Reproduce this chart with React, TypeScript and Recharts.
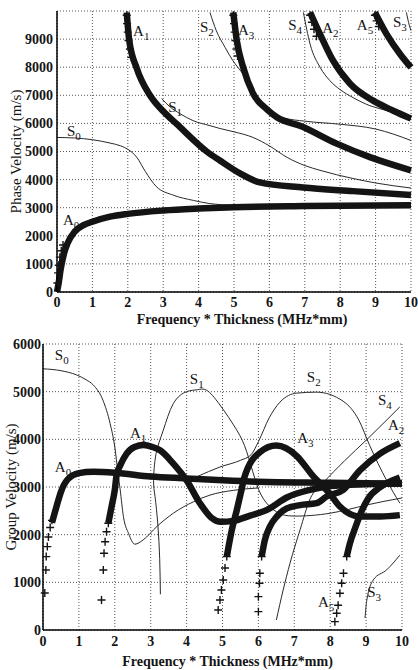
import React from 'react';
import {
  ComposedChart, Line, Scatter, XAxis, YAxis, CartesianGrid, ReferenceDot, Label,
} from 'recharts';

type Pt = [number, number];

// frequency*thickness (MHz*mm) vs velocity (m/s)

const xTicks = [0, 1, 2, 3, 4, 5, 6, 7, 8, 9, 10];
const phaseTicks = [0, 1000, 2000, 3000, 4000, 5000, 6000, 7000, 8000, 9000];
const groupTicks = [0, 1000, 2000, 3000, 4000, 5000, 6000];

// ---- phase velocity ----
const phaseA0: Pt[] = [[0, 0], [0.05, 350], [0.1, 780], [0.2, 1380], [0.3, 1740], [0.5, 2150], [0.75, 2380], [1, 2500], [1.5, 2680], [2, 2780], [3, 2900], [4, 2970], [5, 3020], [7, 3060], [10, 3085]];
const phaseA0Plus: Pt[] = [[0.01, 320], [0.03, 680], [0.05, 950], [0.08, 1240], [0.12, 1470], [0.17, 1670]];
const phaseS0: Pt[] = [[0, 5500], [0.5, 5480], [1, 5420], [1.5, 5300], [1.8, 5200], [2, 5080], [2.25, 4800], [2.5, 4280], [2.8, 3760], [3.3, 3440], [3.85, 3260], [4.3, 3150], [5, 3090], [6, 3075], [10, 3070]];
const phaseA1: Pt[] = [[1.97, 9950], [2.04, 8960], [2.25, 7970], [2.63, 6990], [3.0, 6430], [3.38, 5980], [4.23, 5000], [4.6, 4680], [5.17, 4220], [5.73, 3900], [6.95, 3720], [8.36, 3590], [10, 3450]];
const phaseA1Plus: Pt[] = [[1.97, 9850], [1.98, 9550], [2.0, 9250], [2.02, 8950], [2.06, 8650], [2.1, 8350]];
const phaseS1: Pt[] = [[2.96, 6880], [3.2, 6580], [3.47, 6350], [3.84, 6100], [4.32, 5920], [4.6, 5820], [5.0, 5700], [5.54, 5500], [6.0, 5200], [6.5, 4790], [7.0, 4500], [7.43, 4330], [8.36, 4040], [9, 3880], [10, 3700]];
const phaseS2: Pt[] = [[4.32, 9950], [4.5, 9300], [4.75, 8700], [4.97, 8230], [5.2, 7850], [5.4, 7500], [5.7, 6900], [6.0, 6450], [6.4, 6200], [7, 6080], [8, 5970], [9, 5800], [9.5, 5620], [10, 5390]];
const phaseA3: Pt[] = [[4.98, 9950], [5.08, 8940], [5.26, 7990], [5.54, 7060], [5.93, 6500], [6.21, 6220], [6.9, 5900], [7.9, 5280], [8.84, 4800], [10, 4330]];
const phaseA3Plus: Pt[] = [[4.98, 9850], [5.0, 9550], [5.02, 9250], [5.04, 8950], [5.07, 8650], [5.1, 8400]];
const phaseS4: Pt[] = [[6.96, 9950], [7.15, 8820], [7.43, 8000], [7.71, 7520], [8.0, 7200], [8.36, 6920], [8.84, 6630], [9.3, 6460], [10, 6130]];
const phaseA2: Pt[] = [[7.15, 9950], [7.43, 9180], [7.8, 8230], [8.28, 7410], [8.93, 6810], [9.5, 6450], [10, 6170]];
const phaseA2Plus: Pt[] = [[7.15, 9850], [7.2, 9600], [7.26, 9350], [7.33, 9100]];
const phaseA5: Pt[] = [[8.98, 9950], [9.31, 9180], [9.69, 8470], [10, 7990]];
const phaseA5Plus: Pt[] = [[8.98, 9850], [9.03, 9650], [9.09, 9450]];
const phaseS3: Pt[] = [[9.87, 9950], [9.95, 9500], [10, 9300]];

// ---- group velocity ----
const groupA0: Pt[] = [[0.25, 2250], [0.38, 2600], [0.5, 2900], [0.7, 3170], [1, 3290], [1.4, 3320], [2, 3300], [3, 3220], [4, 3180], [5, 3140], [6, 3110], [8, 3090], [10, 3070]];
const groupA0Plus: Pt[] = [[0.05, 775], [0.08, 1260], [0.09, 1540], [0.12, 1750], [0.15, 1950], [0.2, 2150], [0.25, 2300]];
const groupS0: Pt[] = [[0, 5480], [0.5, 5440], [0.94, 5350], [1.2, 5250], [1.4, 5140], [1.67, 4820], [1.87, 4330], [2.0, 3840], [2.09, 3290], [2.15, 2940], [2.24, 2380], [2.38, 2030], [2.56, 1800], [2.79, 1890], [3.17, 2170], [3.63, 2450], [4.19, 2690], [4.65, 2830], [5.3, 2930], [6, 2980]];
const groupA1: Pt[] = [[1.82, 2240], [1.91, 2590], [2.0, 2940], [2.05, 3250], [2.15, 3450], [2.33, 3700], [2.55, 3840], [2.8, 3880], [3.05, 3840], [3.26, 3770], [3.63, 3490], [4.0, 3140], [4.37, 2660], [4.7, 2350], [4.95, 2270], [5.3, 2290], [5.77, 2400], [6.24, 2520], [6.79, 2780], [7.44, 2940], [8, 3020], [9, 3060], [10, 3080]];
const groupA1Plus: Pt[] = [[1.63, 630], [1.68, 1260], [1.7, 1610], [1.73, 1850], [1.77, 2060], [1.82, 2240]];
const groupS1: Pt[] = [[3.27, 750], [3.25, 1500], [3.2, 2200], [3.12, 2800], [3.08, 3140], [3.15, 3700], [3.35, 4190], [3.63, 4750], [4.0, 5000], [4.3, 5040], [4.56, 5030], [4.93, 4720], [5.4, 4190], [5.67, 3750], [5.9, 3180], [6.14, 2750], [6.5, 2480], [7, 2390], [8, 2450], [9, 2620], [10, 2770]];
const groupS2: Pt[] = [[4.3, 3220], [4.93, 3420], [5.5, 3560], [5.8, 3680], [6.0, 3950], [6.3, 4450], [6.6, 4780], [7.07, 4970], [7.62, 4990], [8.36, 4800], [8.8, 4400], [9.1, 3870], [9.57, 3140], [9.94, 2660]];
const groupA3: Pt[] = [[5.12, 1540], [5.26, 2100], [5.4, 2520], [5.53, 2940], [5.6, 3180], [6.04, 3730], [6.5, 3870], [7.07, 3650], [7.5, 3250], [8.0, 2850], [8.27, 2590], [8.83, 2380], [9.4, 2380], [9.94, 2410]];
const groupA3Plus: Pt[] = [[4.88, 420], [4.93, 630], [4.97, 840], [5.02, 1050], [5.07, 1300], [5.12, 1540]];
const groupA2: Pt[] = [[6.09, 1540], [6.18, 1890], [6.32, 2170], [6.51, 2380], [6.79, 2550], [7.16, 2620], [7.62, 2660], [7.9, 2800], [8.36, 2940], [8.83, 3350], [9.39, 3700], [9.94, 3920]];
const groupA2Plus: Pt[] = [[6.0, 385], [6.0, 700], [6.03, 980], [6.04, 1190], [6.09, 1540]];
const groupS4: Pt[] = [[6.5, 210], [6.69, 840], [6.88, 1400], [7.16, 2100], [7.44, 2750], [7.8, 3080], [8.4, 3550], [9.0, 3980], [9.5, 4350], [9.94, 4680]];
const groupA5: Pt[] = [[8.46, 1540], [8.55, 1820], [8.7, 2150], [8.85, 2450], [9.05, 2750], [9.4, 3000], [9.94, 3200]];
const groupA5Plus: Pt[] = [[8.13, 175], [8.18, 350], [8.22, 520], [8.27, 770], [8.32, 980], [8.37, 1190], [8.46, 1540]];
const groupS3: Pt[] = [[8.97, 250], [9.02, 630], [9.2, 1050], [9.57, 1260], [9.94, 1570]];

// mode labels: [letter, subscript, f, v]
const phaseLabels: [string, string, number, number][] = [
  ['A', '1', 2.15, 9110], ['S', '2', 4.04, 9250], ['A', '3', 5.11, 9150], ['S', '4', 6.53, 9320],
  ['A', '2', 7.49, 9220], ['A', '5', 8.47, 9320], ['S', '3', 9.49, 9430], ['S', '1', 3.14, 6400],
  ['S', '0', 0.28, 5550], ['A', '0', 0.17, 2380],
];
const groupLabels: [string, string, number, number][] = [
  ['S', '0', 0.33, 5660], ['A', '0', 0.33, 3310], ['A', '1', 2.42, 4030], ['S', '1', 4.09, 5160],
  ['S', '2', 7.35, 5200], ['A', '3', 7.08, 3920], ['S', '4', 9.33, 4720], ['A', '2', 9.61, 4190],
  ['A', '5', 7.66, 480], ['S', '3', 9.03, 690],
];

const rows = (pts: Pt[]) => pts.map(([f, v]) => ({ f, v }));

const FONT = 'Liberation Serif';
const INK = '#141414';

const Plus = (props: any) => {
  const { cx, cy } = props;
  return <path d={`M${cx - 4},${cy}h8M${cx},${cy - 4}v8`} stroke={INK} strokeWidth={1.4} fill="none" />;
};

const ModeText = ({ cx, cy, name, sub }: any) => (
  <text x={cx} y={cy} fontFamily={FONT} fontSize={15} fill={INK}>
    {name}
    <tspan dy={4} fontSize={11}>{sub}</tspan>
  </text>
);

interface ChartProps {
  top: number;
  height: number;
  margin: { top: number; right: number; left: number; bottom: number };
  xHeight: number;
  yWidth: number;
  yMax: number;
  yTicks: number[];
  yTitle: string;
  yTitleOffset: number;
  tickMargin: number;
  xTitleOffset: number;
  xTitleDx: number;
  thick: Pt[][];
  thin: { pts: Pt[]; curve: 'monotone' | 'natural' }[];
  plus: Pt[][];
  labels: [string, string, number, number][];
}

function DispersionChart(p: ChartProps) {
  const tickStyle = { fontFamily: FONT, fontSize: 14, fontWeight: 700, fill: INK };
  return (
    <div style={{ position: 'absolute', left: 0, top: p.top }}>
      <ComposedChart width={418} height={p.height} margin={p.margin}>
        <CartesianGrid stroke="#555" strokeDasharray="1 2" />
        <XAxis
          dataKey="f"
          type="number"
          domain={[0, 10]}
          ticks={xTicks}
          tickLine={false}
          tickSize={0}
          tickMargin={p.tickMargin}
          tick={tickStyle}
          axisLine={{ stroke: '#000', strokeWidth: 1.5 }}
          height={p.xHeight}
        >
          <Label
            value="Frequency * Thickness (MHz*mm)"
            position="insideBottom"
            offset={p.xTitleOffset}
            dx={p.xTitleDx}
            style={{ fontFamily: FONT, fontSize: 14, fontWeight: 700, fill: INK }}
          />
        </XAxis>
        <YAxis
          type="number"
          domain={[0, p.yMax]}
          ticks={p.yTicks}
          width={p.yWidth}
          tickLine={false}
          tickSize={0}
          tickMargin={p.yWidth > 50 ? 4 : 2}
          tick={tickStyle}
          axisLine={{ stroke: '#000', strokeWidth: 1.5 }}
          allowDataOverflow
        >
          <Label
            value={p.yTitle}
            angle={-90}
            position="insideLeft"
            offset={p.yTitleOffset}
            style={{ fontFamily: FONT, fontSize: 15, fill: INK, textAnchor: 'middle' }}
          />
        </YAxis>
        {p.thin.map((s, i) => (
          <Line
            key={`thin${i}`}
            data={rows(s.pts)}
            dataKey="v"
            type={s.curve}
            stroke="#2a2a2a"
            strokeWidth={1}
            dot={false}
            isAnimationActive={false}
          />
        ))}
        {p.thick.map((s, i) => (
          <Line
            key={`thick${i}`}
            data={rows(s)}
            dataKey="v"
            type="monotone"
            stroke={INK}
            strokeWidth={6.5}
            dot={false}
            isAnimationActive={false}
          />
        ))}
        {p.plus.map((s, i) => (
          <Scatter
            key={`plus${i}`}
            data={rows(s)}
            dataKey="v"
            shape={Plus}
            isAnimationActive={false}
          />
        ))}
        {p.labels.map(([name, sub, f, v]) => (
          <ReferenceDot
            key={name + sub}
            x={f}
            y={v}
            r={0}
            ifOverflow="visible"
            shape={(dp: any) => <ModeText cx={dp.cx} cy={dp.cy} name={name} sub={sub} />}
          />
        ))}
      </ComposedChart>
    </div>
  );
}

export default function App() {
  return (
    <div style={{ position: 'absolute', left: 0, top: 0, width: 418, height: 670, background: '#fff' }}>
      <DispersionChart
        top={0}
        height={330}
        margin={{ top: 11, right: 7, left: 0, bottom: 0 }}
        xHeight={38}
        yWidth={57}
        yMax={10000}
        yTicks={phaseTicks}
        yTitle="Phase Velocity (m/s)"
        yTitleOffset={16}
        tickMargin={5}
        xTitleOffset={6}
        xTitleDx={8}
        thick={[phaseA0, phaseA1, phaseA3, phaseA2, phaseA5]}
        thin={[
          { pts: phaseS0, curve: 'monotone' },
          { pts: phaseS1, curve: 'monotone' },
          { pts: phaseS2, curve: 'monotone' },
          { pts: phaseS4, curve: 'monotone' },
          { pts: phaseS3, curve: 'monotone' },
        ]}
        plus={[phaseA0Plus, phaseA1Plus, phaseA3Plus, phaseA2Plus, phaseA5Plus]}
        labels={phaseLabels}
      />
      <DispersionChart
        top={330}
        height={340}
        margin={{ top: 14, right: 16, left: 0, bottom: 0 }}
        xHeight={40}
        yWidth={43}
        yMax={6000}
        yTicks={groupTicks}
        yTitle="Group Velocity (m/s)"
        yTitleOffset={11}
        tickMargin={6}
        xTitleOffset={4}
        xTitleDx={5}
        thick={[groupA0, groupA1, groupA3, groupA2, groupA5]}
        thin={[
          { pts: groupS0, curve: 'monotone' },
          { pts: groupS1, curve: 'natural' },
          { pts: groupS2, curve: 'monotone' },
          { pts: groupS4, curve: 'monotone' },
          { pts: groupS3, curve: 'monotone' },
        ]}
        plus={[groupA0Plus, groupA1Plus, groupA3Plus, groupA2Plus, groupA5Plus]}
        labels={groupLabels}
      />
    </div>
  );
}
